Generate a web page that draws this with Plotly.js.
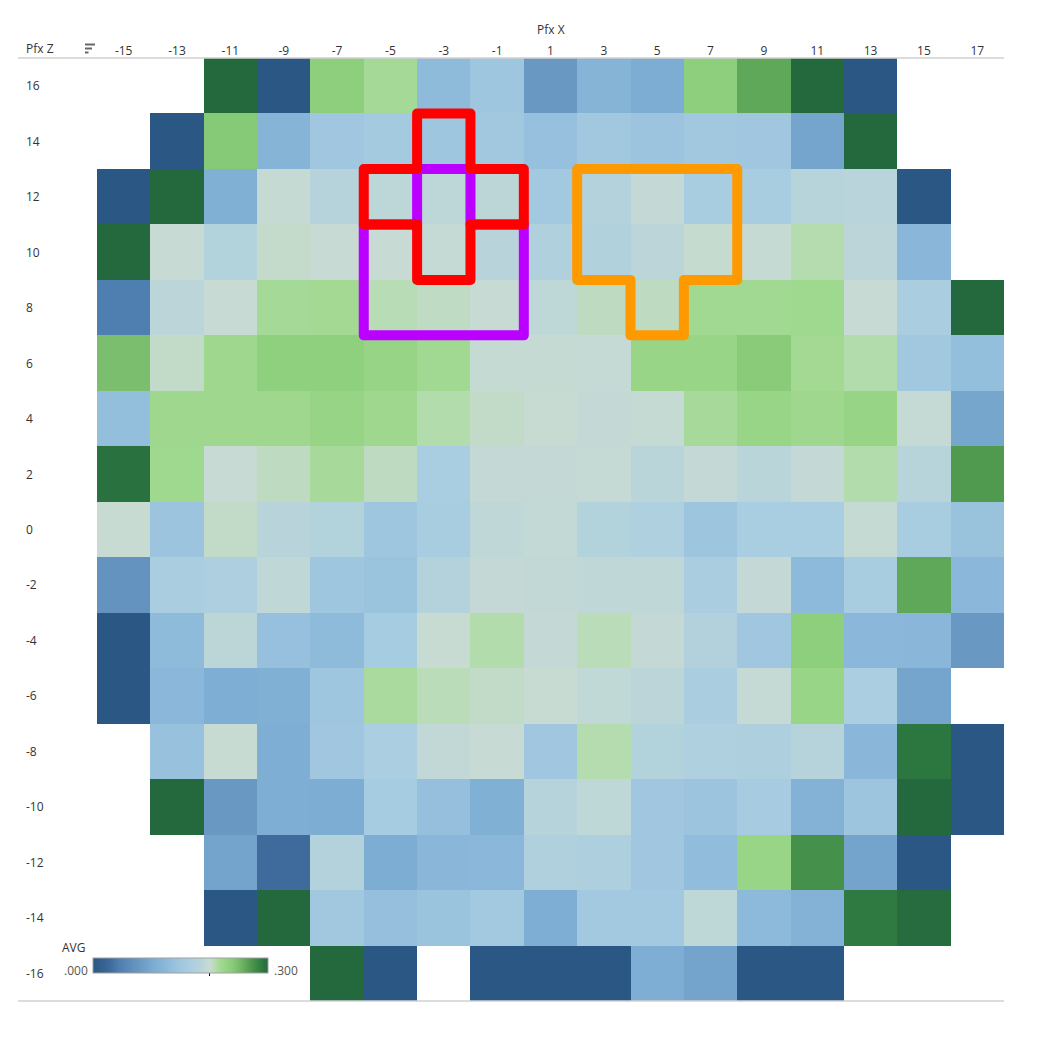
<!DOCTYPE html>
<html>
<head>
<meta charset="utf-8">
<script src="https://cdn.plot.ly/plotly-3.0.1.min.js"></script>
<style>
  html, body { margin: 0; padding: 0; background: #ffffff; }
  #chart { width: 1047px; height: 1048px; }
</style>
</head>
<body>
<div id="chart"></div>
<script>
// ---- Data ----
const pfxX = [-15, -13, -11, -9, -7, -5, -3, -1, 1, 3, 5, 7, 9, 11, 13, 15, 17];
const pfxZ = [16, 14, 12, 10, 8, 6, 4, 2, 0, -2, -4, -6, -8, -10, -12, -14, -16];
const xTickLabels = ["-15", "-13", "-11", "-9", "-7", "-5", "-3", "-1", "1", "3", "5", "7", "9", "11", "13", "15", "17"];
const zTickLabels = ["16", "14", "12", "10", "8", "6", "4", "2", "0", "-2", "-4", "-6", "-8", "-10", "-12", "-14", "-16"];

const avgZ16  = [null, null, 0.300, 0.000, 0.235, 0.217, 0.130, 0.148, 0.080, 0.117, 0.105, 0.235, 0.262, 0.300, 0.000, null, null];
const avgZ14  = [null, 0.000, 0.240, 0.118, 0.150, 0.158, 0.148, 0.152, 0.138, 0.152, 0.145, 0.152, 0.150, 0.095, 0.300, null, null];
const avgZ12  = [0.000, 0.300, 0.110, 0.198, 0.182, 0.190, 0.190, 0.189, 0.155, 0.180, 0.196, 0.165, 0.165, 0.184, 0.186, 0.000, null];
const avgZ10  = [0.300, 0.199, 0.178, 0.202, 0.199, 0.199, 0.197, 0.185, 0.175, 0.176, 0.188, 0.201, 0.198, 0.210, 0.188, 0.123, null];
const avgZ8   = [0.045, 0.188, 0.199, 0.217, 0.218, 0.208, 0.204, 0.199, 0.191, 0.205, 0.205, 0.219, 0.219, 0.221, 0.199, 0.168, 0.300];
const avgZ6   = [0.248, 0.203, 0.222, 0.233, 0.233, 0.227, 0.219, 0.198, 0.198, 0.197, 0.226, 0.226, 0.238, 0.218, 0.211, 0.152, 0.135];
const avgZ4   = [0.135, 0.222, 0.222, 0.222, 0.227, 0.222, 0.211, 0.203, 0.200, 0.196, 0.198, 0.216, 0.226, 0.222, 0.227, 0.197, 0.096];
const avgZ2   = [0.295, 0.221, 0.199, 0.205, 0.216, 0.205, 0.166, 0.196, 0.196, 0.197, 0.187, 0.196, 0.187, 0.196, 0.211, 0.184, 0.270];
const avgZ0   = [0.200, 0.145, 0.203, 0.185, 0.178, 0.148, 0.165, 0.192, 0.195, 0.178, 0.174, 0.147, 0.166, 0.166, 0.198, 0.165, 0.142];
const avgZm2  = [0.072, 0.168, 0.171, 0.192, 0.148, 0.143, 0.180, 0.196, 0.194, 0.192, 0.192, 0.167, 0.196, 0.127, 0.165, 0.262, 0.125];
const avgZm4  = [0.000, 0.130, 0.189, 0.138, 0.130, 0.162, 0.200, 0.211, 0.196, 0.207, 0.196, 0.177, 0.150, 0.235, 0.125, 0.123, 0.080];
const avgZm6  = [0.000, 0.125, 0.107, 0.110, 0.148, 0.215, 0.207, 0.203, 0.200, 0.193, 0.188, 0.167, 0.197, 0.226, 0.169, 0.095, null];
const avgZm8  = [null, 0.140, 0.200, 0.107, 0.150, 0.169, 0.194, 0.199, 0.150, 0.210, 0.178, 0.174, 0.173, 0.182, 0.123, 0.292, 0.000];
const avgZm10 = [null, 0.300, 0.080, 0.107, 0.105, 0.162, 0.137, 0.110, 0.182, 0.191, 0.150, 0.145, 0.163, 0.115, 0.146, 0.300, 0.000];
const avgZm12 = [null, null, 0.094, 0.030, 0.180, 0.105, 0.123, 0.125, 0.175, 0.173, 0.150, 0.132, 0.226, 0.276, 0.094, 0.000, null];
const avgZm14 = [null, null, 0.000, 0.300, 0.153, 0.137, 0.143, 0.155, 0.107, 0.156, 0.156, 0.191, 0.128, 0.115, 0.290, 0.298, null];
const avgZm16 = [null, null, null, null, 0.300, 0.000, null, 0.000, 0.000, 0.000, 0.107, 0.094, 0.000, 0.000, null, null, null];

// highlighted cell groups [pfxX, pfxZ]
const redCells = [[-3, 14], [-5, 12], [-3, 12], [-1, 12], [-3, 10]];
const purpleCells = [[-3, 12], [-5, 10], [-3, 10], [-1, 10], [-5, 8], [-3, 8], [-1, 8]];
const orangeCells = [[3, 12], [5, 12], [7, 12], [3, 10], [5, 10], [7, 10], [5, 8]];

const legendTitle = "AVG";
const legendMinLabel = ".000";
const legendMaxLabel = ".300";
const colorMin = 0.0, colorMax = 0.3, colorCenter = 0.2;

// ---- Build ----
const zMatrix = [avgZ16, avgZ14, avgZ12, avgZ10, avgZ8, avgZ6, avgZ4, avgZ2, avgZ0,
                 avgZm2, avgZm4, avgZm6, avgZm8, avgZm10, avgZm12, avgZm14, avgZm16];

const colorscale = [
  [0.000, '#2a5783'],
  [0.100, '#3e6b9c'],
  [0.150, '#4f7fb0'],
  [0.267, '#6999c2'],
  [0.350, '#7dadd2'],
  [0.417, '#8bb8da'],
  [0.500, '#a0c7df'],
  [0.550, '#a8cde1'],
  [0.617, '#b8d4da'],
  [0.667, '#c8dbd3'],
  [0.700, '#b4dcae'],
  [0.727, '#a3d993'],
  [0.753, '#98d587'],
  [0.783, '#8dcf7d'],
  [0.833, '#78bc6b'],
  [0.900, '#4f9a4e'],
  [0.967, '#2e7a40'],
  [1.000, '#24693d']
];

// page geometry (px)
const W = 1047, H = 1048;
const M = {l: 97, r: 43, t: 58, b: 47};
const PW = W - M.l - M.r, PH = H - M.t - M.b;
const px = x => (x - M.l) / PW;
const py = y => (H - M.b - y) / PH;

// outline of a union of 2x2 cells
function outlinePath(cells) {
  const edges = [];
  cells.forEach(([cx, cy]) => {
    const a = [cx - 1, cy - 1], b = [cx + 1, cy - 1], c = [cx + 1, cy + 1], d = [cx - 1, cy + 1];
    edges.push([a, b], [b, c], [c, d], [d, a]);
  });
  const key = p => p[0] + ',' + p[1];
  const set = new Set(edges.map(e => key(e[0]) + '|' + key(e[1])));
  const outer = edges.filter(e => !set.has(key(e[1]) + '|' + key(e[0])));
  const byStart = {};
  outer.forEach(e => { byStart[key(e[0])] = e; });
  const pts = [];
  let e = outer[0];
  for (let i = 0; i < outer.length; i++) {
    pts.push(e[0]);
    e = byStart[key(e[1])];
  }
  const simp = pts.filter((p, i) => {
    const prev = pts[(i - 1 + pts.length) % pts.length], next = pts[(i + 1) % pts.length];
    return !((prev[0] === p[0] && p[0] === next[0]) || (prev[1] === p[1] && p[1] === next[1]));
  });
  return 'M ' + simp.map(p => p[0] + ' ' + p[1]).join(' L ') + ' Z';
}

const FONT = '"Open Sans", "Noto Sans", "DejaVu Sans", sans-serif';
const TXT = '#333333';

const trace = {
  type: 'heatmap',
  x: pfxX,
  y: pfxZ,
  z: zMatrix,
  zmin: colorMin,
  zmax: colorMax,
  colorscale: colorscale,
  xgap: 0, ygap: 0,
  hoverinfo: 'skip',
  colorbar: {
    orientation: 'h',
    lenmode: 'pixels', len: 175,
    thicknessmode: 'pixels', thickness: 15,
    x: px(180.5), xanchor: 'center',
    y: py(977), yanchor: 'bottom',
    xpad: 0, ypad: 0,
    outlinewidth: 1, outlinecolor: '#a0a0a0',
    tickvals: [colorCenter], ticks: 'outside', ticklen: 3, tickwidth: 1, tickcolor: '#000',
    showticklabels: false,
    title: {text: ''}
  }
};

const annotations = [];
pfxZ.forEach((z, i) => {
  annotations.push({
    xref: 'paper', yref: 'y', x: px(24), y: z, xanchor: 'left', yanchor: 'middle',
    text: zTickLabels[i], showarrow: false, font: {family: FONT, size: 12, color: TXT}
  });
});
annotations.push({xref: 'paper', yref: 'paper', x: px(24), y: py(48), xanchor: 'left', yanchor: 'middle',
  text: 'Pfx Z', showarrow: false, font: {family: FONT, size: 12, color: TXT}});
annotations.push({xref: 'paper', yref: 'paper', x: px(550.5), y: py(29), xanchor: 'center', yanchor: 'middle',
  text: 'Pfx X', showarrow: false, font: {family: FONT, size: 12, color: TXT}});
annotations.push({xref: 'paper', yref: 'paper', x: px(60), y: py(947), xanchor: 'left', yanchor: 'middle',
  text: legendTitle, showarrow: false, font: {family: FONT, size: 12, color: TXT}});
annotations.push({xref: 'paper', yref: 'paper', x: px(90), y: py(970), xanchor: 'right', yanchor: 'middle',
  text: legendMinLabel, showarrow: false, font: {family: FONT, size: 12, color: '#555'}});
annotations.push({xref: 'paper', yref: 'paper', x: px(272), y: py(970), xanchor: 'left', yanchor: 'middle',
  text: legendMaxLabel, showarrow: false, font: {family: FONT, size: 12, color: '#555'}});

const shapes = [
  {type: 'line', xref: 'paper', yref: 'paper', x0: px(18), x1: px(1004), y0: py(58), y1: py(58),
   line: {color: '#d0d0d0', width: 1.5}},
  {type: 'line', xref: 'paper', yref: 'paper', x0: px(18), x1: px(1004), y0: py(1001), y1: py(1001),
   line: {color: '#d0d0d0', width: 1.5}},
  {type: 'line', xref: 'paper', yref: 'paper', x0: px(85), x1: px(95), y0: py(44.5), y1: py(44.5), line: {color: '#666', width: 2}},
  {type: 'line', xref: 'paper', yref: 'paper', x0: px(85), x1: px(92), y0: py(48.5), y1: py(48.5), line: {color: '#666', width: 2}},
  {type: 'line', xref: 'paper', yref: 'paper', x0: px(85), x1: px(88.5), y0: py(52.5), y1: py(52.5), line: {color: '#666', width: 2}},
  {type: 'path', xref: 'x', yref: 'y', path: outlinePath(purpleCells), line: {color: '#bb00ff', width: 10}},
  {type: 'path', xref: 'x', yref: 'y', path: outlinePath(redCells), line: {color: '#ff0000', width: 10}},
  {type: 'path', xref: 'x', yref: 'y', path: outlinePath(orangeCells), line: {color: '#ff9900', width: 10}}
];

const layout = {
  width: W, height: H,
  margin: M,
  paper_bgcolor: '#ffffff',
  plot_bgcolor: '#ffffff',
  font: {family: FONT, size: 12, color: TXT},
  showlegend: false,
  xaxis: {
    side: 'top',
    range: [-16, 18],
    tickvals: pfxX, ticktext: xTickLabels,
    ticks: '', showgrid: false, zeroline: false, showline: false,
    tickfont: {family: FONT, size: 12, color: TXT},
    fixedrange: true
  },
  yaxis: {
    range: [-17, 17],
    showticklabels: false, ticks: '', showgrid: false, zeroline: false, showline: false,
    fixedrange: true
  },
  annotations: annotations,
  shapes: shapes
};

Plotly.newPlot('chart', [trace], layout, {displayModeBar: false, staticPlot: true}).then(() => {
  document.querySelectorAll('.shapelayer path').forEach(p => {
    p.style.strokeLinejoin = 'round';
  });
});
</script>
</body>
</html>
